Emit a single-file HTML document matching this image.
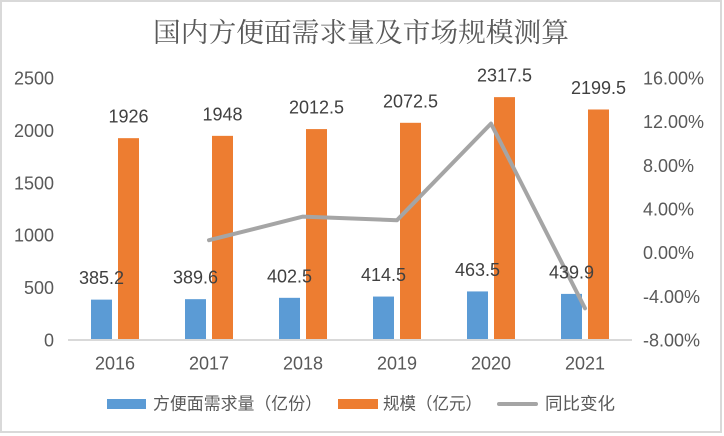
<!DOCTYPE html>
<html>
<head>
<meta charset="utf-8">
<style>
  html, body { margin:0; padding:0; background:#ffffff; }
  body { width:724px; height:436px; position:relative; overflow:hidden; }
  .frame { position:absolute; left:0; top:0; width:722px; height:433px; box-sizing:border-box; border:2px solid #d9d9d9; }
  svg { position:absolute; left:0; top:0; }
  .num { font-family:"Liberation Sans", Arial, sans-serif; font-size:18px; fill:#404040; }
  .ax { font-family:"Liberation Sans", Arial, sans-serif; font-size:18px; fill:#595959; }
  .leg { font-family:"Liberation Sans", "Noto Sans CJK SC", sans-serif; font-size:17px; fill:#595959; }
  .title { font-family:"Liberation Serif", "Noto Serif CJK SC", serif; font-size:27px; fill:#595959; }
</style>
</head>
<body>
<div class="frame"></div>
<svg width="724" height="436" viewBox="0 0 724 436" xmlns="http://www.w3.org/2000/svg">
  <!-- Title -->
  <text class="title" x="153" y="33" dominant-baseline="central" textLength="416" lengthAdjust="spacingAndGlyphs">国内方便面需求量及市场规模测算</text>

  <!-- Left axis labels -->
  <g class="ax" text-anchor="end">
    <text x="54" y="346.5">0</text>
    <text x="54" y="294.1">500</text>
    <text x="54" y="241.7">1000</text>
    <text x="54" y="189.3">1500</text>
    <text x="54" y="136.9">2000</text>
    <text x="54" y="84.5">2500</text>
  </g>

  <!-- Right axis labels -->
  <g class="ax" text-anchor="start">
    <text x="643" y="84.5">16.00%</text>
    <text x="643" y="128.2">12.00%</text>
    <text x="643" y="171.8">8.00%</text>
    <text x="643" y="215.5">4.00%</text>
    <text x="643" y="259.2">0.00%</text>
    <text x="643" y="302.8">-4.00%</text>
    <text x="643" y="346.5">-8.00%</text>
  </g>

  <!-- Blue bars -->
  <g fill="#5B9BD5">
    <rect x="91" y="299.63" width="21" height="40.37"/>
    <rect x="185" y="299.17" width="21" height="40.83"/>
    <rect x="279" y="297.82" width="21" height="42.18"/>
    <rect x="373" y="296.56" width="21" height="43.44"/>
    <rect x="467" y="291.43" width="21" height="48.57"/>
    <rect x="561" y="293.90" width="21" height="46.10"/>
  </g>
  <!-- Orange bars -->
  <g fill="#ED7D31">
    <rect x="118" y="138.16" width="21" height="201.84"/>
    <rect x="212" y="135.85" width="21" height="204.15"/>
    <rect x="306" y="129.09" width="21" height="210.91"/>
    <rect x="400" y="122.80" width="21" height="217.20"/>
    <rect x="494" y="97.13" width="21" height="242.87"/>
    <rect x="588" y="109.49" width="21" height="230.51"/>
  </g>

  <!-- Axis line -->
  <line x1="68" y1="340" x2="632" y2="340" stroke="#d9d9d9" stroke-width="2"/>

  <!-- Line series -->
  <polyline points="209,240.2 303,216.6 397,220.2 491,123.6 585,308.3" fill="none" stroke="#A5A5A5" stroke-width="4" stroke-linecap="round" stroke-linejoin="round"/>

  <!-- Blue labels -->
  <g class="num" text-anchor="middle">
    <text x="101.5" y="284.1">385.2</text>
    <text x="195.5" y="283.7">389.6</text>
    <text x="289.5" y="282.3">402.5</text>
    <text x="383.5" y="281.1">414.5</text>
    <text x="477.5" y="275.9">463.5</text>
    <text x="571.5" y="278.4">439.9</text>
  </g>
  <!-- Orange labels -->
  <g class="num" text-anchor="middle">
    <text x="128.5" y="122.7">1926</text>
    <text x="222.5" y="120.4">1948</text>
    <text x="316.5" y="113.6">2012.5</text>
    <text x="410.5" y="107.3">2072.5</text>
    <text x="504.5" y="81.6">2317.5</text>
    <text x="598.5" y="94.0">2199.5</text>
  </g>

  <!-- X axis labels -->
  <g class="ax" text-anchor="middle">
    <text x="115" y="369.5">2016</text>
    <text x="209" y="369.5">2017</text>
    <text x="303" y="369.5">2018</text>
    <text x="397" y="369.5">2019</text>
    <text x="491" y="369.5">2020</text>
    <text x="585" y="369.5">2021</text>
  </g>

  <!-- Legend -->
  <rect x="107" y="399" width="39" height="10" fill="#5B9BD5"/>
  <text class="leg" x="153" y="404" dominant-baseline="central" textLength="169" lengthAdjust="spacingAndGlyphs">方便面需求量（亿份）</text>
  <rect x="338" y="399" width="40" height="10" fill="#ED7D31"/>
  <text class="leg" x="383" y="404" dominant-baseline="central" textLength="99" lengthAdjust="spacingAndGlyphs">规模（亿元）</text>
  <line x1="499" y1="404" x2="536" y2="404" stroke="#A5A5A5" stroke-width="4" stroke-linecap="round"/>
  <text class="leg" x="545" y="404" dominant-baseline="central" textLength="70" lengthAdjust="spacingAndGlyphs">同比变化</text>
</svg>
</body>
</html>
